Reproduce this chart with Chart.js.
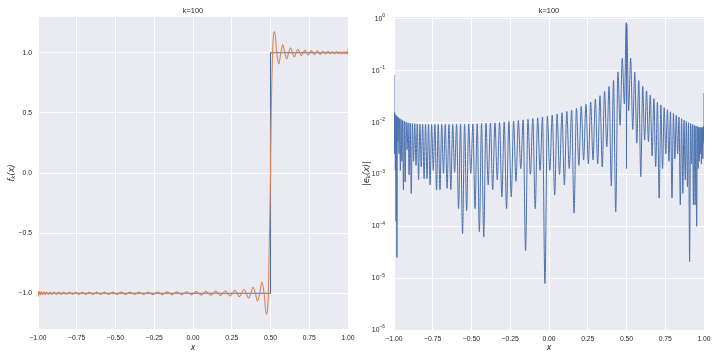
<!DOCTYPE html>
<html>
<head>
<meta charset="utf-8">
<script src="https://cdn.jsdelivr.net/npm/chart.js@4.4.1/dist/chart.umd.min.js"></script>
<style>
  body { margin: 0; background: #fff; }
  #wrap { position: relative; width: 720px; height: 360px; }
  .box { position: absolute; top: 0; width: 360px; height: 360px; }
</style>
</head>
<body>
<div id="wrap">
  <div class="box" style="left:0"><canvas id="left"></canvas></div>
  <div class="box" style="left:360px"><canvas id="right"></canvas></div>
</div>
<script>
// positions of the error lobes and zeros (ascending x)
const xPos = [
  -1,
  -0.99999, -0.99978, -0.99933, -0.99863, -0.99768, -0.99649, -0.99506, -0.99337,
  -0.99144, -0.98927, -0.98686, -0.98419, -0.98129, -0.97815, -0.97476, -0.97113,
  -0.96728, -0.96316, -0.95882, -0.95425, -0.94943, -0.94438, -0.93910, -0.93358,
  -0.92784, -0.92186, -0.91566, -0.90924, -0.90259, -0.89571, -0.88862, -0.88130,
  -0.87377, -0.86603, -0.85806, -0.84989, -0.84151, -0.83292, -0.82413, -0.81513,
  -0.80593, -0.79653, -0.78694, -0.77715, -0.76717, -0.75700, -0.74664, -0.73610,
  -0.72537, -0.71447, -0.70339, -0.69214, -0.68072, -0.66913, -0.65738, -0.64546,
  -0.63338, -0.62115, -0.60876, -0.59622, -0.58354, -0.57071, -0.55775, -0.54464,
  -0.53140, -0.51803, -0.50453, -0.49090, -0.47716, -0.46330, -0.44932, -0.43523,
  -0.42104, -0.40674, -0.39234, -0.37784, -0.36325, -0.34857, -0.33381, -0.31896,
  -0.30403, -0.28903, -0.27396, -0.25882, -0.24362, -0.22835, -0.21303, -0.19766,
  -0.18224, -0.16677, -0.15126, -0.13572, -0.12014, -0.10453, -0.08889, -0.07324,
  -0.05756, -0.04188, -0.02618, -0.01047, 0.00524, 0.02094, 0.03664, 0.05234,
  0.06802, 0.08368, 0.09932, 0.11494, 0.13053, 0.14608, 0.16160, 0.17708,
  0.19252, 0.20791, 0.22325, 0.23853, 0.25376, 0.26892, 0.28402, 0.29904,
  0.31399, 0.32887, 0.34366, 0.35837, 0.37299, 0.38752, 0.40195, 0.41628,
  0.43051, 0.44464, 0.45865, 0.47255,
  0.48634,
  0.4985, 0.5, 0.5015,
  0.51354, 0.52696, 0.54024, 0.55339, 0.56641, 0.57928, 0.59201, 0.60460,
  0.61704, 0.62932, 0.64145, 0.65342, 0.66523, 0.67688, 0.68835, 0.69966,
  0.71080, 0.72176, 0.73254, 0.74314, 0.75356, 0.76380, 0.77384, 0.78369,
  0.79335, 0.80282, 0.81208, 0.82115, 0.83001, 0.83867, 0.84712, 0.85536,
  0.86340, 0.87121, 0.87882, 0.88620, 0.89337, 0.90032, 0.90704, 0.91355,
  0.91982, 0.92587, 0.93169, 0.93728, 0.94264, 0.94777, 0.95266, 0.95732,
  0.96174, 0.96593, 0.96987, 0.97358, 0.97705, 0.98027, 0.98325, 0.98600,
  0.98849, 0.99075, 0.99276, 0.99452, 0.99604, 0.99731, 0.99834, 0.99912,
  0.99966, 0.99995,
  1
];

// |e_k(x)| at those positions (right panel)
const errAbs = [
  0.083,
  0.0063, 0.016, 0.0045, 0.0155, 0.0035, 0.015, 0.0025, 0.0145,
  0.0012, 0.014, 0.000126, 0.0135, 0.000025, 0.013, 0.0043, 0.0125,
  0.0025, 0.012, 0.0012, 0.0115, 0.0018, 0.011, 0.0005, 0.0106,
  0.00072, 0.0103, 0.0030, 0.0100, 0.00098, 0.0098, 0.00043, 0.0096,
  0.0018, 0.0095, 0.0015, 0.0094, 0.00079, 0.0093, 0.0014, 0.0093,
  0.00083, 0.0092, 0.00083, 0.0092, 0.00063, 0.0092, 0.0012, 0.0092,
  0.0005, 0.0092, 0.00051, 0.0092, 0.00105, 0.0092, 0.00054, 0.0092,
  0.00051, 0.0092, 0.0011, 0.0092, 0.00022, 0.0093, 0.000072, 0.0093,
  0.0002, 0.0094, 0.00105, 0.0094, 0.00022, 0.0095, 0.000078, 0.0096,
  0.000062, 0.0097, 0.00063, 0.0098, 0.00051, 0.0099, 0.00079, 0.0101,
  0.00037, 0.0103, 0.00022, 0.0105, 0.00037, 0.0107, 0.00074, 0.0110,
  0.0013, 0.0113, 0.000034, 0.0116, 0.0010, 0.0120, 0.00022, 0.0124,
  0.0012, 0.0129, 0.0000079, 0.0134, 0.0012, 0.0140, 0.0004, 0.0147,
  0.0010, 0.0155, 0.00063, 0.0164, 0.0013, 0.0175, 0.00018, 0.0188,
  0.0015, 0.0205, 0.0019, 0.0225, 0.0016, 0.025, 0.0019, 0.0285,
  0.0016, 0.033, 0.0014, 0.040, 0.0034, 0.050, 0.0006, 0.065,
  0.00019, 0.095, 0.0089, 0.175,
  0.023,
  0.85, 0.0013, 0.8,
  0.017, 0.175, 0.0074, 0.094, 0.004, 0.065, 0.00091, 0.050,
  0.0046, 0.041, 0.0043, 0.034, 0.0023, 0.029, 0.0014, 0.025,
  0.00035, 0.022, 0.0013, 0.0195, 0.0025, 0.0178, 0.0018, 0.0162,
  0.00035, 0.0150, 0.0020, 0.0139, 0.0025, 0.0128, 0.00026, 0.0119,
  0.00043, 0.0111, 0.00079, 0.0105, 0.00058, 0.0100, 0.000021, 0.0096,
  0.0016, 0.0092, 0.00026, 0.0089, 0.00026, 0.0086, 0.0001, 0.0084,
  0.0013, 0.0082, 0.0018, 0.0081, 0.0025, 0.0080, 0.0016, 0.0080,
  0.0032, 0.0080, 0.0020, 0.0081, 0.0040, 0.0083, 0.0050, 0.0086,
  0.0063, 0.0090,
  0.037
];

// f_k(x) at the same positions (left panel, orange)
const fitVal = [
  -1.03,
  -1, -0.984, -1, -1.0155, -1, -0.985, -1, -1.0145,
  -1, -0.986, -1, -1.0135, -1, -0.987, -1, -1.0125,
  -1, -0.988, -1, -1.0115, -1, -0.989, -1, -1.0106,
  -1, -0.9897, -1, -1.0100, -1, -0.9902, -1, -1.0096,
  -1, -0.9905, -1, -1.0094, -1, -0.9907, -1, -1.0093,
  -1, -0.9908, -1, -1.0092, -1, -0.9908, -1, -1.0092,
  -1, -0.9908, -1, -1.0092, -1, -0.9908, -1, -1.0092,
  -1, -0.9908, -1, -1.0092, -1, -0.9907, -1, -1.0093,
  -1, -0.9906, -1, -1.0094, -1, -0.9905, -1, -1.0096,
  -1, -0.9903, -1, -1.0098, -1, -0.9901, -1, -1.0101,
  -1, -0.9897, -1, -1.0105, -1, -0.9893, -1, -1.0110,
  -1, -0.9887, -1, -1.0116, -1, -0.9880, -1, -1.0124,
  -1, -0.9871, -1, -1.0134, -1, -0.9860, -1, -1.0147,
  -1, -0.9845, -1, -1.0164, -1, -0.9825, -1, -1.0188,
  -1, -0.9795, -1, -1.0225, -1, -0.975, -1, -1.0285,
  -1, -0.967, -1, -1.040, -1, -0.950, -1, -1.065,
  -1, -0.905, -1, -1.175,
  -1,
  -0.15, 0, 0.2,
  1, 1.175, 1, 0.906, 1, 1.065, 1, 0.950,
  1, 1.041, 1, 0.966, 1, 1.029, 1, 0.975,
  1, 1.022, 1, 0.9805, 1, 1.0178, 1, 0.9838,
  1, 1.0150, 1, 0.9861, 1, 1.0128, 1, 0.9881,
  1, 1.0111, 1, 0.9895, 1, 1.0100, 1, 0.9904,
  1, 1.0092, 1, 0.9911, 1, 1.0086, 1, 0.9916,
  1, 1.0082, 1, 0.9919, 1, 1.0080, 1, 0.9920,
  1, 1.0080, 1, 0.9919, 1, 1.0083, 1, 0.9914,
  1, 1.0090,
  1.037
];

// the step being approximated
const stepX = [-1, 0.5, 0.5, 1];
const stepY = [-1, -1, 1, 1];

const xTicks = [-1, -0.75, -0.5, -0.25, 0, 0.25, 0.5, 0.75, 1];
const xTickLabels = ['\u22121.00', '\u22120.75', '\u22120.50', '\u22120.25', '0.00', '0.25', '0.50', '0.75', '1.00'];
const fTicks = [-1, -0.5, 0, 0.5, 1];
const fTickLabels = ['\u22121.0', '\u22120.5', '0.0', '0.5', '1.0'];
const eTicks = [1e-6, 1e-5, 1e-4, 1e-3, 1e-2, 1e-1, 1];
const eTickExp = ['\u22126', '\u22125', '\u22124', '\u22123', '\u22122', '\u22121', '0'];

const BLUE = '#4c72b0';
const ORANGE = '#dd8452';
const TEXT = '#262626';
const FONT = '"Liberation Sans", Arial, sans-serif';
const tickFont = { family: FONT, size: 6.8 };

Chart.defaults.font.family = FONT;
Chart.defaults.color = TEXT;

// grey axes background like seaborn darkgrid
const axesBg = {
  id: 'axesBg',
  beforeDraw(chart) {
    const { ctx, chartArea: a } = chart;
    ctx.save();
    ctx.fillStyle = '#eaeaf2';
    ctx.fillRect(a.left, a.top, a.right - a.left, a.bottom - a.top);
    ctx.restore();
  }
};

// panel title and the y label with a subscript k
const panelText = {
  id: 'panelText',
  afterDraw(chart, args, opts) {
    const { ctx, chartArea: a } = chart;
    ctx.save();
    ctx.fillStyle = TEXT;
    ctx.font = '7.4px ' + FONT;
    ctx.textAlign = 'center';
    ctx.textBaseline = 'middle';
    ctx.fillText(opts.title, (a.left + a.right) / 2, 11);

    ctx.translate(opts.labelX, (a.top + a.bottom) / 2);
    ctx.rotate(-Math.PI / 2);
    const big = 'italic 8px "DejaVu Sans"';
    const small = 'italic 5.6px "DejaVu Sans"';
    const parts = [[opts.pre, big, 0], ['k', small, 1.8], [opts.post, big, 0]];
    let w = 0;
    parts.forEach(p => { ctx.font = p[1]; w += ctx.measureText(p[0]).width; });
    let x = -w / 2;
    ctx.textAlign = 'left';
    parts.forEach(p => {
      ctx.font = p[1];
      ctx.fillText(p[0], x, p[2]);
      x += ctx.measureText(p[0]).width;
    });
    ctx.restore();
  }
};

// 10^n labels for the log axis, with a raised exponent
const logLabels = {
  id: 'logLabels',
  afterDraw(chart) {
    const { ctx, chartArea: a, scales } = chart;
    ctx.save();
    ctx.fillStyle = TEXT;
    ctx.textAlign = 'right';
    ctx.textBaseline = 'middle';
    eTicks.forEach((v, i) => {
      const y = scales.y.getPixelForValue(v);
      const right = a.left - 9;
      ctx.font = '4.9px ' + FONT;
      const ew = ctx.measureText(eTickExp[i]).width;
      ctx.fillText(eTickExp[i], right, y - 3);
      ctx.font = '6.8px ' + FONT;
      ctx.fillText('10', right - ew, y);
    });
    ctx.restore();
  }
};

function xScale(height) {
  return {
    type: 'linear',
    min: -1,
    max: 1,
    afterBuildTicks: s => { s.ticks = xTicks.map(v => ({ value: v })); },
    afterFit: s => { s.height = height; },
    grid: { color: '#fff', lineWidth: 1, drawTicks: false },
    border: { display: false },
    ticks: { font: tickFont, padding: 5, maxRotation: 0, autoSkip: false,
             callback: (v, i) => xTickLabels[i] },
    title: { display: true, text: 'x', color: TEXT, padding: { top: 0, bottom: 7 },
             font: { family: '"DejaVu Sans"', style: 'italic', size: 8 } }
  };
}

new Chart(document.getElementById('left'), {
  type: 'line',
  data: {
    datasets: [
      {
        data: xPos.map((x, i) => ({ x: x, y: fitVal[i] })),
        borderColor: ORANGE,
        borderWidth: 1.1,
        pointRadius: 0,
        cubicInterpolationMode: 'monotone'
      },
      {
        data: stepX.map((x, i) => ({ x: x, y: stepY[i] })),
        borderColor: BLUE,
        borderWidth: 1.1,
        pointRadius: 0,
        tension: 0
      }
    ]
  },
  options: {
    responsive: true,
    maintainAspectRatio: false,
    animation: false,
    layout: { padding: { top: 17, right: 12, left: 0, bottom: 0 } },
    plugins: {
      legend: { display: false },
      tooltip: { enabled: false },
      panelText: { title: 'k=100', labelX: 12, pre: 'f', post: '(x)' }
    },
    scales: {
      x: xScale(31),
      y: {
        type: 'linear',
        min: -1.297,
        max: 1.297,
        afterBuildTicks: s => { s.ticks = fTicks.map(v => ({ value: v })); },
        afterFit: s => { s.width = 38; },
        grid: { color: '#fff', lineWidth: 1, drawTicks: false },
        border: { display: false },
        ticks: { font: tickFont, padding: 6, autoSkip: false,
                 callback: (v, i) => fTickLabels[i] }
      }
    }
  },
  plugins: [axesBg, panelText]
});

new Chart(document.getElementById('right'), {
  type: 'line',
  data: {
    datasets: [
      {
        data: xPos.map((x, i) => ({ x: x, y: errAbs[i] })),
        borderColor: BLUE,
        borderWidth: 1,
        pointRadius: 0,
        cubicInterpolationMode: 'monotone'
      }
    ]
  },
  options: {
    responsive: true,
    maintainAspectRatio: false,
    animation: false,
    layout: { padding: { top: 17, right: 16, left: 0, bottom: 0 } },
    plugins: {
      legend: { display: false },
      tooltip: { enabled: false },
      panelText: { title: 'k=100', labelX: 7, pre: '|e', post: '(x)|' }
    },
    scales: {
      x: xScale(30),
      y: {
        type: 'logarithmic',
        min: 1e-6,
        max: 1.09,
        afterBuildTicks: s => { s.ticks = eTicks.map(v => ({ value: v })); },
        afterFit: s => { s.width = 34; },
        grid: { color: '#fff', lineWidth: 1, drawTicks: false },
        border: { display: false },
        ticks: { display: false }
      }
    }
  },
  plugins: [axesBg, panelText, logLabels]
});
</script>
</body>
</html>
